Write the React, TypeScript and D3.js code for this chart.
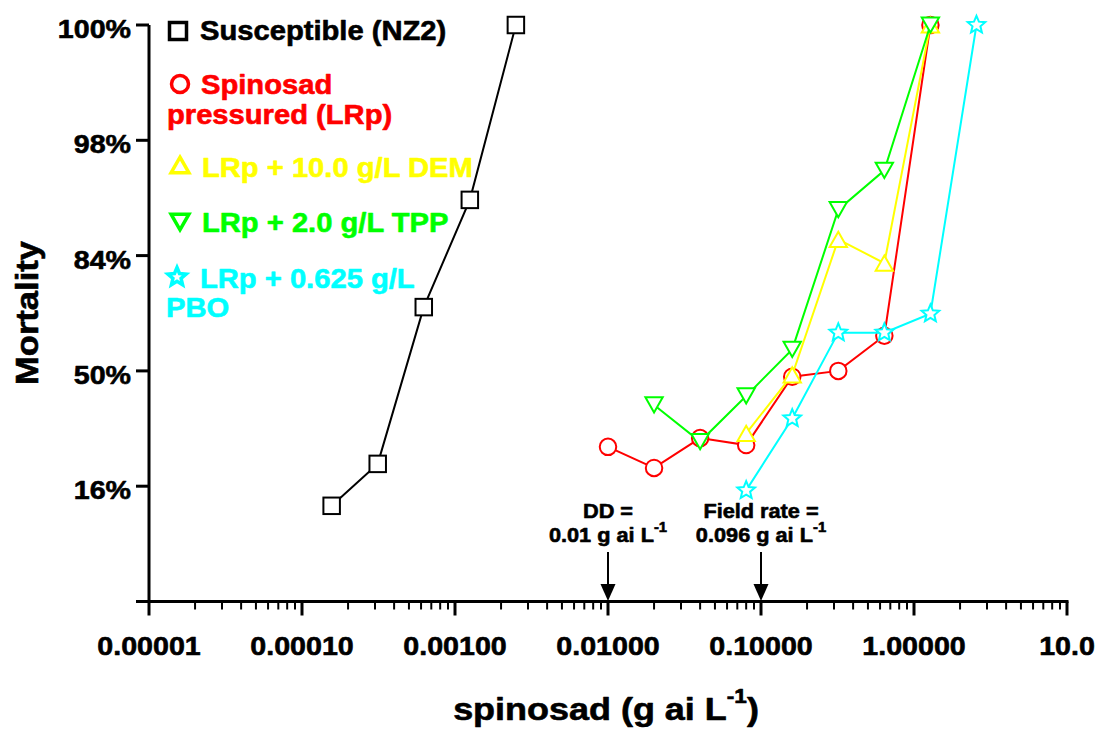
import React from "react";
import * as d3 from "d3";

// ---------- data ----------
const xTickValues = [1e-5, 1e-4, 1e-3, 1e-2, 1e-1, 1, 10];
const xTickLabels = ["0.00001", "0.00010", "0.00100", "0.01000", "0.10000", "1.00000", "10.0"];
// probit positions of y ticks (in SD units) and their labels
const yTickProbits = [-2, -1, 0, 1, 2, 3];
const yTickLabels = ["", "16%", "50%", "84%", "98%", "100%"];

const concSusceptible = [0.00015625, 0.0003125, 0.000625, 0.00125, 0.0025];
const mortSusceptible = [12.1, 21, 71, 93.1, 100];

const concLRp = [0.01, 0.02, 0.04, 0.08, 0.16, 0.32, 0.64, 1.28];
const mortLRp = [25.5, 20, 28, 26, 48, 50, 62, 100];

const concDEM = [0.08, 0.16, 0.32, 0.64, 1.28];
const mortDEM = [29.4, 48.6, 87.3, 82.5, 100];

const concTPP = [0.02, 0.04, 0.08, 0.16, 0.32, 0.64, 1.28];
const mortTPP = [38.4, 27, 41.4, 57.4, 91.9, 95.9, 100];

const concPBO = [0.08, 0.16, 0.32, 0.64, 1.28, 2.56];
const mortPBO = [15, 34, 63, 63, 69, 100];

const seriesNames = ["Susceptible (NZ2)", "Spinosad pressured (LRp)", "LRp + 10.0 g/L DEM", "LRp + 2.0 g/L TPP", "LRp + 0.625 g/L PBO"];
const seriesColors = ["#000000", "#ff0000", "#ffff00", "#00ff00", "#00ffff"];
const seriesShapes = ["square", "circle", "triangleUp", "triangleDown", "star"];

const annotX = [0.01, 0.1];
const annotLine1 = ["DD =", "Field rate ="];
const annotLine2 = ["0.01 g ai L", "0.096 g ai L"];

// ---------- helpers ----------
function probit(pct: number): number {
  const p = pct / 100;
  if (p >= 0.99865) return 3;
  if (p <= 0.02275) return -2;
  const a = [-3.969683028665376e1, 2.209460984245205e2, -2.759285104469687e2, 1.38357751867269e2, -3.066479806614716e1, 2.506628277459239];
  const b = [-5.447609879822406e1, 1.615858368580409e2, -1.556989798598866e2, 6.680131188771972e1, -1.328068155288572e1];
  const c = [-7.784894002430293e-3, -3.223964580411365e-1, -2.400758277161838, -2.549732539343734, 4.374664141464968, 2.938163982698783];
  const d = [7.784695709041462e-3, 3.224671290700398e-1, 2.445134137142996, 3.754408661907416];
  const plow = 0.02425;
  if (p < plow) {
    const q = Math.sqrt(-2 * Math.log(p));
    return (((((c[0] * q + c[1]) * q + c[2]) * q + c[3]) * q + c[4]) * q + c[5]) / ((((d[0] * q + d[1]) * q + d[2]) * q + d[3]) * q + 1);
  }
  if (p <= 1 - plow) {
    const q = p - 0.5;
    const r = q * q;
    return ((((((a[0] * r + a[1]) * r + a[2]) * r + a[3]) * r + a[4]) * r + a[5]) * q) / (((((b[0] * r + b[1]) * r + b[2]) * r + b[3]) * r + b[4]) * r + 1);
  }
  const q = Math.sqrt(-2 * Math.log(1 - p));
  return -(((((c[0] * q + c[1]) * q + c[2]) * q + c[3]) * q + c[4]) * q + c[5]) / ((((d[0] * q + d[1]) * q + d[2]) * q + d[3]) * q + 1);
}

const FONT = "'Liberation Sans', Arial, Helvetica, sans-serif";

function T({ x, y, anchor = "start", size, fill = "#000", rotate = 0, sx = 1.1, children }: any) {
  return (
    <text
      transform={`translate(${x},${y}) rotate(${rotate}) scale(${sx},1)`}
      textAnchor={anchor}
      fontSize={size}
      fontWeight="bold"
      fontFamily={FONT}
      fill={fill}
      stroke={fill}
      strokeWidth={0.6}
      strokeLinejoin="round"
    >
      {children}
    </text>
  );
}

function starPath(r: number, ratio: number) {
  const pts: string[] = [];
  for (let i = 0; i < 10; i++) {
    const ang = -Math.PI / 2 + (i * Math.PI) / 5;
    const rr = i % 2 === 0 ? r : r * ratio;
    pts.push(`${(rr * Math.cos(ang)).toFixed(2)},${(rr * Math.sin(ang)).toFixed(2)}`);
  }
  return "M" + pts.join("L") + "Z";
}

function Marker({ shape, cx, cy, color, size, sw }: any) {
  const common = { fill: "#fff", stroke: color, strokeWidth: sw, strokeLinejoin: "miter" as const };
  if (shape === "square") {
    return <rect x={cx - size / 2} y={cy - size / 2} width={size} height={size} {...common} />;
  }
  if (shape === "circle") {
    return <circle cx={cx} cy={cy} r={size / 2} {...common} />;
  }
  if (shape === "triangleUp") {
    const w = size * 1.05, h = size * 0.92;
    return <path d={`M${cx},${cy - h / 2}L${cx + w / 2},${cy + h / 2}L${cx - w / 2},${cy + h / 2}Z`} {...common} />;
  }
  if (shape === "triangleDown") {
    const w = size * 1.05, h = size * 0.92;
    return <path d={`M${cx - w / 2},${cy - h / 2}L${cx + w / 2},${cy - h / 2}L${cx},${cy + h / 2}Z`} {...common} />;
  }
  return <path transform={`translate(${cx},${cy})`} d={starPath(size * 0.56, 0.45)} {...common} />;
}

// ---------- chart ----------
export default function App() {
  const W = 1099, H = 729;
  const left = 149, right = 1067, top = 25, bottom = 601.5;
  const x = d3.scaleLog().domain([1e-5, 10]).range([left, right]);
  const y = d3.scaleLinear().domain([-2, 3]).range([bottom, top]);

  const concs = [concSusceptible, concLRp, concDEM, concTPP, concPBO];
  const morts = [mortSusceptible, mortLRp, mortDEM, mortTPP, mortPBO];

  const line = d3
    .line<[number, number]>()
    .x((d) => x(d[0]))
    .y((d) => y(probit(d[1])));

  const minorTicks: number[] = [];
  for (let e = -5; e < 1; e++) {
    for (let k = 2; k <= 9; k++) minorTicks.push(k * Math.pow(10, e));
  }

  return (
    <svg width={W} height={H} viewBox={`0 0 ${W} ${H}`} style={{ display: "block", background: "#fff" }}>
      <style>{`body{margin:0;}`}</style>
      <rect x={0} y={0} width={W} height={H} fill="#fff" />

      {/* series */}
      {concs.map((cs, si) => {
        const pts: [number, number][] = cs.map((c, i) => [c, morts[si][i]]);
        return (
          <g key={si}>
            <path d={line(pts) || ""} fill="none" stroke={seriesColors[si]} strokeWidth={2} />
            {pts.map((p, i) => (
              <Marker key={i} shape={seriesShapes[si]} cx={x(p[0])} cy={y(probit(p[1]))} color={seriesColors[si]} size={16.5} sw={2} />
            ))}
          </g>
        );
      })}

      {/* y axis */}
      <line x1={left} x2={left} y1={top} y2={bottom} stroke="#000" strokeWidth={3} />
      {yTickProbits.map((z, i) => (
        <g key={i}>
          <line x1={left - 13} x2={left} y1={y(z)} y2={y(z)} stroke="#000" strokeWidth={3} />
          {yTickLabels[i] && (
            <T x={131} y={y(z) + 13} anchor="end" size={26.5} sx={1.08}>
              {yTickLabels[i]}
            </T>
          )}
        </g>
      ))}

      {/* x axis */}
      <line x1={left - 1.5} x2={right + 1.5} y1={bottom} y2={bottom} stroke="#000" strokeWidth={3} />
      {minorTicks.map((v, i) => (
        <line key={i} x1={x(v)} x2={x(v)} y1={bottom} y2={bottom + 8} stroke="#000" strokeWidth={2} />
      ))}
      {xTickValues.map((v, i) => (
        <g key={i}>
          <line x1={x(v)} x2={x(v)} y1={bottom} y2={bottom + 14} stroke="#000" strokeWidth={3} />
          <T x={x(v)} y={655} anchor="middle" size={26.5} sx={1.08}>
            {xTickLabels[i]}
          </T>
        </g>
      ))}

      {/* axis titles */}
      <T x={38} y={313} anchor="middle" size={32} sx={1.08} rotate={-90}>
        Mortality
      </T>
      <T x={606} y={720} anchor="middle" size={31} sx={1.16}>
        spinosad (g ai L<tspan dy={-17} fontSize={19.5}>-1</tspan>
        <tspan dy={17}>)</tspan>
      </T>

      {/* annotations */}
      {annotX.map((v, i) => {
        const ax = x(v);
        return (
          <g key={i}>
            <T x={ax} y={518} anchor="middle" size={20.5} sx={1.06}>
              {annotLine1[i]}
            </T>
            <T x={ax} y={541.5} anchor="middle" size={20.5} sx={1.06}>
              {annotLine2[i]}
              <tspan dy={-10} fontSize={14}>-1</tspan>
            </T>
            <line x1={ax} x2={ax} y1={552} y2={587} stroke="#000" strokeWidth={2} />
            <path d={`M${ax - 7.5},${584}L${ax + 7.5},${584}L${ax},${601}Z`} fill="#000" />
          </g>
        );
      })}

      {/* legend */}
      <Marker shape="square" cx={178} cy={31} color={seriesColors[0]} size={17} sw={3.5} />
      <T x={200} y={40} size={27} sx={1.08} fill={seriesColors[0]}>Susceptible (NZ2)</T>

      <Marker shape="circle" cx={180} cy={84} color={seriesColors[1]} size={17} sw={3.5} />
      <T x={201} y={94} size={27} sx={1.08} fill={seriesColors[1]}>Spinosad</T>
      <T x={167} y={124} size={27} sx={1.08} fill={seriesColors[1]}>pressured (LRp)</T>

      <Marker shape="triangleUp" cx={180} cy={165} color={seriesColors[2]} size={17} sw={3.5} />
      <T x={202} y={177} size={27} sx={1.08} fill={seriesColors[2]}>LRp + 10.0 g/L DEM</T>

      <Marker shape="triangleDown" cx={180} cy={222} color={seriesColors[3]} size={17} sw={3.5} />
      <T x={202} y={232} size={27} sx={1.08} fill={seriesColors[3]}>LRp + 2.0 g/L TPP</T>

      <Marker shape="star" cx={177} cy={277} color={seriesColors[4]} size={17} sw={3.5} />
      <T x={200} y={288} size={27} sx={1.08} fill={seriesColors[4]}>LRp + 0.625 g/L</T>
      <T x={166} y={317} size={27} sx={1.08} fill={seriesColors[4]}>PBO</T>
    </svg>
  );
}
